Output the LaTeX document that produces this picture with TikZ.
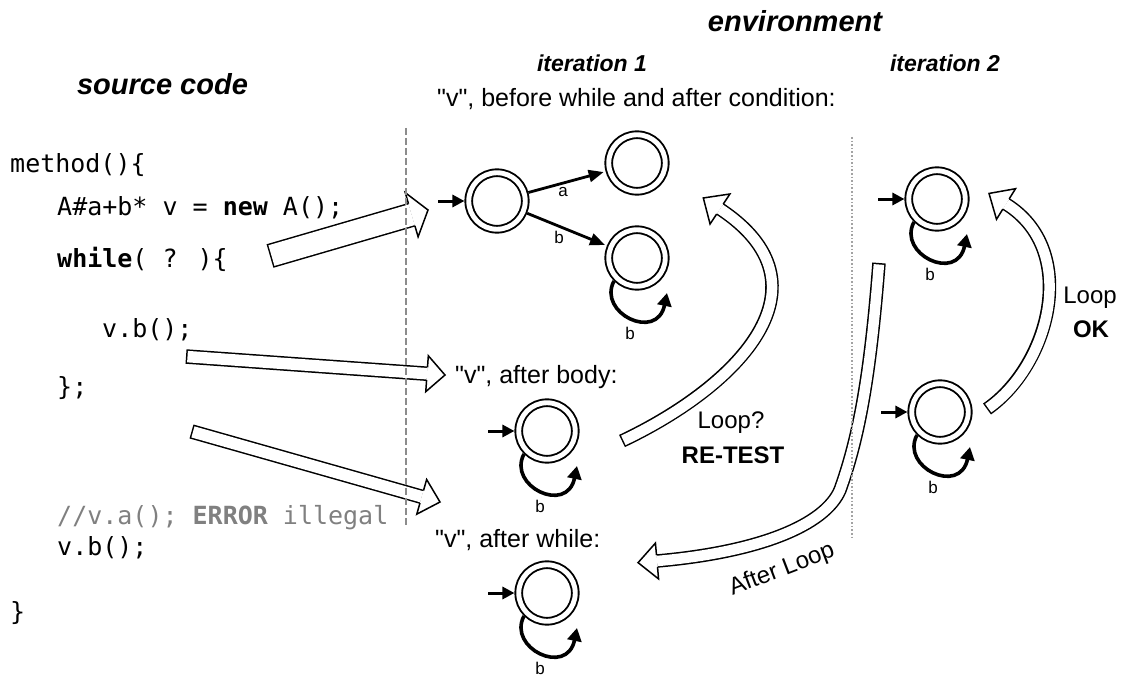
\documentclass[tikz,border=0pt]{standalone}
\usepackage{fontspec}
\setmainfont{Liberation Sans}
\newfontfamily\codefont{DejaVu Sans Mono}
\usetikzlibrary{arrows.meta,calc}
\definecolor{codegray}{HTML}{808080}
\definecolor{linegray}{HTML}{8C8C8C}
\newcommand\qv{\textquotedbl v\textquotedbl}
\tikzset{
  code/.style={font=\codefont\fontsize{25}{30}\selectfont, anchor=base west, inner sep=0pt},
  title/.style={font=\bfseries\itshape\fontsize{29}{34}\selectfont, anchor=base, inner sep=0pt},
  iter/.style={font=\bfseries\itshape\fontsize{23}{27}\selectfont, anchor=base, inner sep=0pt},
  lbl/.style={font=\fontsize{25}{30}\selectfont, anchor=base west, inner sep=0pt},
  note/.style={font=\fontsize{24}{28}\selectfont, anchor=base, inner sep=0pt},
  tlabel/.style={font=\fontsize{17}{20}\selectfont, inner sep=0pt},
  state/.style={circle, draw, double, double distance=4.9pt, line width=1.9pt,
    minimum size=56.5pt, inner sep=0pt, outer sep=4.3pt},
  trans/.style={line width=2.8pt, -{Triangle[length=15pt,width=12pt]}, shorten >=2pt},
  init/.style={line width=3pt, -{Triangle[length=12pt,width=12pt]}},
  selfloop/.style={line width=3.6pt, -{Triangle[length=13pt,width=14pt]}},
}
% block arrow: #1 path, #2 control point, #3 head base, #4 shaft half width, #5 head half width, #6 head length
\newcommand\bigarrow[6]{%
  \draw[line width=2*#4pt+1.5pt] #1;
  \draw[white, line width=2*#4pt-1.5pt, shorten <=1.5pt] #1;
  \fill[white] ($(#3)!#5pt!90:(#2)$) -- ($(#3)!-#6pt!(#2)$) -- ($(#3)!#5pt!-90:(#2)$) -- cycle;
  \draw[line width=1.5pt] ($(#3)!#4pt!90:(#2)$) -- ($(#3)!#5pt!90:(#2)$) -- ($(#3)!-#6pt!(#2)$)
    -- ($(#3)!#5pt!-90:(#2)$) -- ($(#3)!#4pt!-90:(#2)$);
}
\newcommand\loopb[1]{%
  \draw[selfloop] (#1.225) .. controls ($(#1)+(-40,-55)$) and ($(#1)+(20,-84)$) .. ($(#1)+(30,-35)$);
  \node[tlabel] (#1lb) at ($(#1)+(-7,-75)$) {b};
}
\begin{document}
\begin{tikzpicture}[x=1pt,y=1pt]
\useasboundingbox (0,0) rectangle (1125,-682);

% titles
\node[title] (tsrc) at (162.5,-95) {source code};
\node[title] (tenv) at (795,-32) {environment};
\node[iter] (it1) at (592,-72) {iteration 1};
\node[iter] (it2) at (945,-72) {iteration 2};

% code
\node[code] (c1) at (10,-173) {method()\{};
\node[code] (c2) at (57,-215) {A\#a+b* v = \textbf{new} A();};
\node[code] (c3) at (57,-267) {\textbf{while}( ? )\{};
\node[code] (c4) at (102,-337) {v.b();};
\node[code] (c5) at (57,-395) {\};};
\node[code, text=codegray] (c6) at (57,-524) {//v.a(); \textbf{ERROR} illegal};
\node[code] (c7) at (57,-555) {v.b();};
\node[code] (c8) at (10,-620) {\}};

% environment labels
\node[lbl] (l1) at (437,-107) {\qv, before while and after condition:};
\node[lbl] (l2) at (455,-383) {\qv, after body:};
\node[lbl] (l3) at (435,-547) {\qv, after while:};

% states
\node[state] (s0) at (497,-201) {};
\node[state] (sa) at (637,-163) {};
\node[state] (sb) at (637,-258) {};
\node[state] (s1) at (547,-431) {};
\node[state] (s2) at (547,-593) {};
\node[state] (s3) at (937,-199) {};
\node[state] (s4) at (940,-412) {};

\foreach \s in {s0,s1,s2,s3,s4}{
  \coordinate (i\s) at ($(\s.west)+(-26,0)$);
  \draw[init] (i\s) -- (\s);
}
\draw[trans] (s0) -- node[tlabel, pos=0.45, yshift=-9pt] (la) {a} (sa);
\draw[trans] (s0) -- node[tlabel, pos=0.4, yshift=-11pt] (lb) {b} (sb);
\loopb{sb}
\loopb{s1}
\loopb{s2}
\loopb{s3}
\loopb{s4}

% straight block arrows
\coordinate (A1t) at (270,-256); \coordinate (A1p) at (428,-210);
\coordinate (A1h) at ($(A1p)!17pt!(A1t)$);
\bigarrow{(A1t) -- (A1h)}{A1t}{A1h}{11.5}{23}{17}
\coordinate (A2t) at (186,-356.5); \coordinate (A2p) at (445,-375);
\coordinate (A2h) at ($(A2p)!18pt!(A2t)$);
\bigarrow{(A2t) -- (A2h)}{A2t}{A2h}{6.5}{18}{18}
\coordinate (A3t) at (191.5,-431.5); \coordinate (A3p) at (440,-502);
\coordinate (A3h) at ($(A3p)!19pt!(A3t)$);
\bigarrow{(A3t) -- (A3h)}{A3t}{A3h}{6.5}{18}{19}

% curved block arrows
\coordinate (C1t) at (622,-441); \coordinate (C1a) at (740,-385);
\coordinate (C1b) at (835,-285); \coordinate (C1h) at (720,-209);
\bigarrow{(C1t) .. controls (C1a) and (C1b) .. (C1h)}{C1b}{C1h}{6}{18}{20}
\coordinate (C2t) at (987,-409); \coordinate (C2a) at (1050,-365);
\coordinate (C2b) at (1080,-250); \coordinate (C2h) at (1006,-204);
\bigarrow{(C2t) .. controls (C2a) and (C2b) .. (C2h)}{C2b}{C2h}{6}{18}{20}
\coordinate (C3t) at (879,-263); \coordinate (C3a) at (870,-380);
\coordinate (C3b) at (858,-440); \coordinate (C3m) at (840,-490);
\coordinate (C3c) at (825,-525); \coordinate (C3d) at (760,-552);
\coordinate (C3h) at (657,-561);
\bigarrow{(C3t) .. controls (C3a) and (C3b) .. (C3m) .. controls (C3c) and (C3d) .. (C3h)}{C3d}{C3h}{6}{18}{19}

% arrow labels
\node[note] (n1) at (731,-428) {Loop?};
\node[note, font=\bfseries\fontsize{24}{28}\selectfont] (n2) at (733,-463) {RE-TEST};
\node[note] (n3) at (1090,-303) {Loop};
\node[note, font=\bfseries\fontsize{24}{28}\selectfont] (n4) at (1091,-337) {OK};
\node[note, anchor=center, rotate=21] (n5) at (782,-570) {After Loop};

% separators
\draw[linegray, line width=1.3pt, dash pattern=on 7pt off 3pt] (406,-128) coordinate (d1) -- (406,-528) coordinate (d2);
\draw[linegray!80, line width=1.8pt, dash pattern=on 1.6pt off 2pt] (852,-137) coordinate (e1) -- (852,-537) coordinate (e2);
\end{tikzpicture}
\end{document}
